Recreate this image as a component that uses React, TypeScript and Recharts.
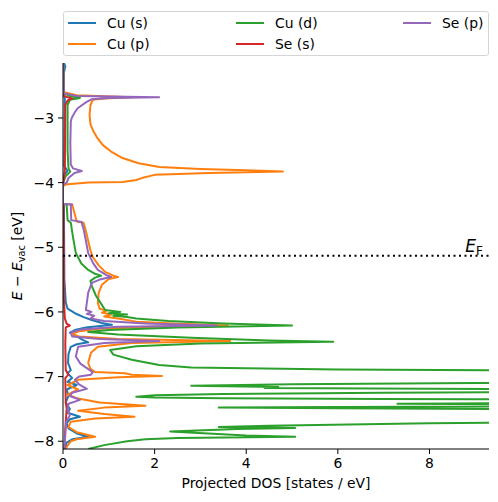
import { LineChart, Line, XAxis, YAxis, ReferenceLine, Label } from "recharts"

// each row is [energy (eV), projected DOS]
const cuS: [number, number][] = [
  [-2.15, 0.02], [-2.2, 0.05], [-2.3, 0.02], [-2.65, 0.02], [-2.7, 0.04], [-3.75, 0.03], [-3.82, 0.1],
  [-3.88, 0.03], [-4.0, 0.0], [-4.33, 0.0], [-4.36, 0.02], [-5.5, 0.03], [-5.85, 0.06], [-5.95, 0.1],
  [-6.02, 0.26], [-6.08, 0.45], [-6.12, 0.61], [-6.17, 0.85], [-6.2, 1.07], [-6.24, 0.5], [-6.28, 0.26],
  [-6.32, 0.15], [-6.38, 0.3], [-6.44, 0.45], [-6.47, 0.55], [-6.5, 0.3], [-6.54, 0.17], [-6.65, 0.12],
  [-6.79, 0.11], [-6.9, 0.17], [-6.95, 0.1], [-7.02, 0.2], [-7.08, 0.1], [-7.13, 0.3], [-7.2, 0.08],
  [-7.3, 0.12], [-7.4, 0.06], [-7.5, 0.15], [-7.56, 0.1], [-7.62, 0.37], [-7.66, 0.15], [-7.72, 0.08],
  [-7.8, 0.12], [-7.88, 0.3], [-7.93, 0.55], [-7.97, 0.2], [-8.02, 0.08], [-8.12, 0.05],
]

const cuP: [number, number][] = [
  [-2.15, 0.0], [-2.6, 0.02], [-2.65, 0.3], [-2.68, 1.5], [-2.7, 0.9], [-2.72, 0.65], [-2.8, 0.6],
  [-2.95, 0.58], [-3.1, 0.6], [-3.2, 0.66], [-3.3, 0.74], [-3.42, 0.87], [-3.52, 1.05], [-3.62, 1.3],
  [-3.7, 1.65], [-3.76, 2.1], [-3.79, 3.0], [-3.81, 4.0], [-3.83, 4.8], [-3.85, 3.2], [-3.88, 2.0],
  [-3.93, 1.72], [-3.96, 1.6], [-3.99, 1.3], [-4.0, 0.55], [-4.03, 0.05], [-4.06, 0.0], [-4.33, 0.0],
  [-4.34, 0.2], [-4.6, 0.3], [-4.62, 0.45], [-4.75, 0.5], [-4.9, 0.55], [-5.05, 0.6], [-5.15, 0.65],
  [-5.28, 0.78], [-5.38, 0.92], [-5.44, 1.1], [-5.46, 1.2], [-5.49, 1.0], [-5.58, 0.85], [-5.7, 0.78],
  [-5.86, 0.76], [-5.95, 0.8], [-5.98, 0.95], [-6.01, 0.85], [-6.04, 1.05], [-6.07, 0.9], [-6.1, 1.2],
  [-6.15, 1.6], [-6.18, 2.4], [-6.21, 3.6], [-6.23, 2.0], [-6.26, 0.8], [-6.3, 0.35], [-6.34, 0.2],
  [-6.38, 0.35], [-6.42, 1.2], [-6.45, 3.65], [-6.48, 1.5], [-6.54, 0.76], [-6.63, 0.61], [-6.79, 0.55],
  [-6.88, 0.6], [-6.93, 0.7], [-6.95, 1.35], [-6.97, 1.5], [-6.99, 2.16], [-7.01, 1.2], [-7.05, 0.33],
  [-7.13, 0.1], [-7.2, 0.33], [-7.28, 0.1], [-7.34, 0.33], [-7.4, 0.8], [-7.45, 1.8], [-7.48, 0.9],
  [-7.53, 0.33], [-7.58, 0.9], [-7.62, 1.56], [-7.65, 0.7], [-7.7, 0.17], [-7.78, 0.12], [-7.86, 0.3],
  [-7.93, 0.7], [-7.97, 0.3], [-8.0, 0.17], [-8.12, 0.05],
]

const cuD: [number, number][] = [
  [-2.15, 0.0], [-2.62, 0.02], [-2.66, 0.15], [-2.69, 0.37], [-2.72, 0.15], [-2.8, 0.1], [-3.5, 0.1],
  [-3.78, 0.12], [-3.83, 0.16], [-3.9, 0.06], [-4.0, 0.0], [-4.33, 0.0], [-4.34, 0.08], [-4.58, 0.1],
  [-4.62, 0.17], [-4.85, 0.22], [-5.09, 0.28], [-5.25, 0.4], [-5.35, 0.55], [-5.41, 0.7], [-5.44, 0.83],
  [-5.47, 0.7], [-5.52, 0.6], [-5.6, 0.63], [-5.75, 0.72], [-5.86, 0.82], [-5.97, 0.92], [-6.0, 1.25],
  [-6.02, 1.0], [-6.04, 1.4], [-6.06, 1.1], [-6.08, 1.4], [-6.1, 1.6], [-6.14, 2.3], [-6.18, 3.5],
  [-6.21, 5.0], [-6.24, 2.5], [-6.28, 1.0], [-6.31, 0.55], [-6.35, 1.2], [-6.4, 2.8], [-6.44, 4.5],
  [-6.46, 5.9], [-6.49, 3.0], [-6.53, 1.6], [-6.59, 1.03], [-6.66, 1.1], [-6.74, 1.5], [-6.82, 2.1],
  [-6.86, 2.8], [-6.89, 6.0], [-6.91, 12], [-7.08, 12], [-7.1, 9], [-7.12, 5], [-7.14, 2.8], [-7.16, 4.7],
  [-7.175, 4.4], [-7.19, 8], [-7.2, 12], [-7.23, 12], [-7.25, 7], [-7.27, 3.5], [-7.29, 2.0], [-7.31, 1.6],
  [-7.325, 2.0], [-7.335, 3.5], [-7.345, 7], [-7.36, 12], [-7.4, 12], [-7.415, 8.5], [-7.42, 7.3],
  [-7.425, 8.5], [-7.44, 12], [-7.46, 12], [-7.47, 6], [-7.48, 3.4], [-7.49, 6], [-7.51, 12], [-7.7, 12],
  [-7.72, 8], [-7.76, 4.5], [-7.78, 3.4], [-7.795, 5.07], [-7.81, 3.8], [-7.85, 2.34], [-7.91, 4.0],
  [-7.93, 5.07], [-7.95, 2.5], [-7.97, 1.8], [-8.0, 1.4], [-8.06, 0.9], [-8.12, 0.55],
]

const seS: [number, number][] = [
  [-2.15, 0.0], [-2.64, 0.01], [-2.67, 0.05], [-2.7, 0.2], [-2.73, 0.1], [-2.8, 0.05], [-3.8, 0.04],
  [-3.95, 0.02], [-4.02, 0.0], [-4.33, 0.0], [-4.36, 0.01], [-5.8, 0.02], [-6.1, 0.04], [-6.18, 0.08],
  [-6.21, 0.15], [-6.24, 0.06], [-6.5, 0.05], [-6.9, 0.06], [-6.97, 0.12], [-7.02, 0.05], [-7.4, 0.06],
  [-7.5, 0.08], [-7.8, 0.05], [-8.12, 0.03],
]

const seP: [number, number][] = [
  [-2.15, 0.0], [-2.62, 0.02], [-2.66, 0.3], [-2.68, 2.1], [-2.69, 1.0], [-2.71, 0.63], [-2.76, 0.5],
  [-2.85, 0.32], [-2.91, 0.26], [-3.0, 0.19], [-3.06, 0.17], [-3.4, 0.16], [-3.72, 0.17], [-3.78, 0.22],
  [-3.82, 0.41], [-3.85, 0.25], [-3.93, 0.12], [-4.0, 0.08], [-4.03, 0.0], [-4.33, 0.0], [-4.34, 0.2],
  [-4.36, 0.17], [-4.58, 0.18], [-4.61, 0.41], [-4.65, 0.42], [-4.72, 0.45], [-4.9, 0.5], [-5.09, 0.55],
  [-5.25, 0.66], [-5.35, 0.76], [-5.43, 0.95], [-5.46, 1.05], [-5.5, 0.8], [-5.55, 0.63], [-5.7, 0.55],
  [-5.86, 0.52], [-5.97, 0.5], [-6.0, 0.62], [-6.03, 0.52], [-6.06, 0.68], [-6.1, 0.6], [-6.14, 0.9],
  [-6.18, 1.8], [-6.21, 3.36], [-6.23, 1.2], [-6.27, 0.4], [-6.32, 0.17], [-6.38, 0.2], [-6.42, 0.8],
  [-6.45, 2.1], [-6.48, 0.9], [-6.54, 0.33], [-6.69, 0.28], [-6.8, 0.38], [-6.85, 0.48], [-6.93, 0.65],
  [-6.97, 0.61], [-7.0, 0.35], [-7.05, 0.26], [-7.12, 0.35], [-7.19, 0.52], [-7.25, 0.2], [-7.3, 0.15],
  [-7.36, 0.37], [-7.42, 0.12], [-7.51, 0.1], [-7.6, 0.15], [-7.7, 0.07], [-7.9, 0.05], [-8.12, 0.03],
]

const xTicks = [0, 2, 4, 6, 8]
const yTicks = [-8, -7, -6, -5, -4, -3]
const fermiLevel = -5.13

const series = [
  { name: "Cu (s)", color: "#1f77b4", rows: cuS },
  { name: "Cu (p)", color: "#ff7f0e", rows: cuP },
  { name: "Cu (d)", color: "#2ca02c", rows: cuD },
  { name: "Se (s)", color: "#d62728", rows: seS },
  { name: "Se (p)", color: "#9467bd", rows: seP },
]

const font = "'DejaVu Sans', sans-serif"
const minus = (v: number) => String(v).replace("-", "\u2212")

// legend goes column by column, like matplotlib ncol=3
const legendSlots = [
  { left: 4, top: 11 },
  { left: 4, top: 32 },
  { left: 172, top: 11 },
  { left: 172, top: 32 },
  { left: 339, top: 11 },
]

function YLabel(props: any) {
  const x = 22
  const y = props.viewBox.y + props.viewBox.height / 2
  return (
    <text x={x} y={y} transform={`rotate(-90, ${x}, ${y})`} textAnchor="middle" fontFamily={font} fontSize={13.9} fill="#000">
      <tspan fontStyle="italic">E</tspan>
      <tspan> − </tspan>
      <tspan fontStyle="italic">E</tspan>
      <tspan fontSize={9.7} dy={3}>vac</tspan>
      <tspan dy={-3}> [eV]</tspan>
    </text>
  )
}

function FermiLabel(props: any) {
  const { x, y, width } = props.viewBox
  return (
    <text x={x + width - 6} y={y - 4} textAnchor="end" fontFamily={font} fill="#000">
      <tspan fontSize={17} fontStyle="italic">E</tspan>
      <tspan fontSize={12} dy={3}>F</tspan>
    </text>
  )
}

export default function App() {
  return (
    <div style={{ position: "absolute", left: 0, top: 0, width: 498, height: 502, background: "#fff" }}>
      <LineChart width={498} height={502} margin={{ top: 63, right: 9, bottom: 0, left: 0 }}>
        <XAxis
          type="number"
          dataKey="x"
          domain={[0, 9.3]}
          ticks={xTicks}
          allowDataOverflow
          height={53}
          tickSize={5}
          tickMargin={4}
          stroke="#000"
          tick={{ fill: "#000", fontSize: 13.9, fontFamily: font }}
        >
          <Label
            content={(p: any) => (
              <text x={p.viewBox.x + p.viewBox.width / 2} y={p.viewBox.y + 39} textAnchor="middle" fontFamily={font} fontSize={13.9} fill="#000">
                Projected DOS [states / eV]
              </text>
            )}
          />
        </XAxis>
        <XAxis xAxisId="top" orientation="top" type="number" domain={[0, 9.3]} height={0} tick={false} tickLine={false} stroke="#000" />
        <YAxis
          type="number"
          domain={[-8.12, -2.15]}
          ticks={yTicks}
          allowDataOverflow
          width={63}
          tickSize={5}
          tickMargin={4}
          stroke="#000"
          tickFormatter={minus}
          tick={{ fill: "#000", fontSize: 13.9, fontFamily: font }}
        >
          <Label content={YLabel} />
        </YAxis>
        <YAxis yAxisId="right" orientation="right" type="number" domain={[-8.12, -2.15]} width={0} tick={false} tickLine={false} stroke="#000" />
        {series.map((s) => (
          <Line
            key={s.name}
            data={s.rows.map(([e, dos]) => ({ x: dos, e }))}
            dataKey="e"
            name={s.name}
            type="linear"
            stroke={s.color}
            strokeWidth={2}
            strokeLinejoin="round"
            dot={false}
            activeDot={false}
            isAnimationActive={false}
          />
        ))}
        <ReferenceLine y={fermiLevel} stroke="#000" strokeWidth={2} strokeDasharray="2 3.5">
          <Label content={FermiLabel} />
        </ReferenceLine>
      </LineChart>
      <div
        style={{
          position: "absolute",
          left: 63,
          top: 11,
          width: 424,
          height: 43,
          border: "1px solid #d5d5d5",
          borderRadius: 3,
          fontFamily: font,
          fontSize: 13.9,
        }}
      >
        {series.map((s, i) => (
          <div key={s.name} style={{ position: "absolute", left: legendSlots[i].left, top: legendSlots[i].top - 10, display: "flex", alignItems: "center", height: 20 }}>
            <div style={{ width: 28, height: 2, background: s.color }} />
            <span style={{ marginLeft: 11 }}>{s.name}</span>
          </div>
        ))}
      </div>
    </div>
  )
}
